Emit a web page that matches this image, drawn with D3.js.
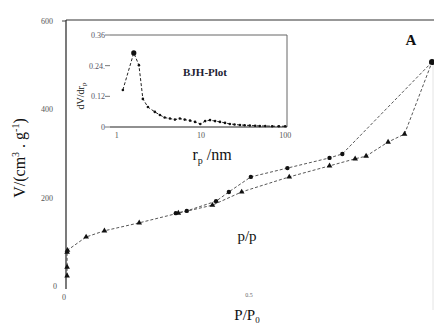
<!DOCTYPE html>
<html>
<head>
<meta charset="utf-8">
<script src="https://cdn.jsdelivr.net/npm/d3@7"></script>
<style>
  body { margin: 0; background: #fff; }
  text { font-family: "Liberation Serif", "DejaVu Serif", serif; }
</style>
</head>
<body>
<div id="chart"></div>
<script>
// adsorption branch (triangles)
var adsP = [0.003, 0.003, 0.003, 0.004, 0.055, 0.105, 0.20, 0.307, 0.40, 0.48, 0.61, 0.72, 0.79, 0.82, 0.88, 0.925, 1.0];
var adsV = [23, 43, 77, 81, 111, 125, 143, 165, 183, 213, 247, 272, 288, 294, 326, 344, 507];
// desorption branch (circles)
var desP = [1.0, 0.755, 0.72, 0.605, 0.505, 0.445, 0.41, 0.33, 0.30];
var desV = [507, 299, 290, 267, 247, 213, 192, 170, 165];

// BJH inset
var poreR = [1.18, 1.59, 1.83, 2.04, 2.34, 2.83, 3.25, 3.7, 4.27, 4.9, 5.6, 6.4, 7.4, 8.5, 9.8, 11.2, 12.8, 14.7, 16.8, 19.3, 22, 25, 29, 33, 38, 44, 50, 58, 70, 84, 100];
var dVdr = [0.145, 0.29, 0.242, 0.11, 0.078, 0.059, 0.047, 0.037, 0.033, 0.029, 0.033, 0.029, 0.025, 0.02, 0.012, 0.023, 0.027, 0.023, 0.02, 0.016, 0.012, 0.01, 0.008, 0.007, 0.006, 0.005, 0.004, 0.004, 0.003, 0.003, 0.003];

var yTicks = [0, 200, 400, 600];
var insetYTicks = [0, 0.12, 0.24, 0.36];
var insetYLabels = ['0', '0.12', '0.24.', '0.36'];
var insetXTicks = [1, 10, 100];

var svg = d3.select('#chart')
  .append('svg')
    .attr('width', 434)
    .attr('height', 327);

var x = d3.scaleLinear().domain([0, 1]).range([66, 432]);
var y = d3.scaleLinear().domain([0, 600]).range([286, 21]);

// frame
svg.append('line').attr('x1', 66).attr('x2', 434).attr('y1', 20).attr('y2', 20)
  .attr('stroke', '#333').attr('stroke-width', 1.2);
svg.append('line').attr('x1', 66).attr('x2', 66).attr('y1', 20).attr('y2', 289)
  .attr('stroke', '#222').attr('stroke-width', 1.2);
svg.append('line').attr('x1', 433).attr('x2', 433).attr('y1', 60).attr('y2', 310)
  .attr('stroke', '#e4e4e4').attr('stroke-width', 1);

// y ticks
var yAxis = svg.append('g');
yAxis.selectAll('text')
  .data(yTicks)
  .enter()
    .append('text')
      .attr('x', function(d) { return d === 0 ? 57 : 53; })
      .attr('y', function(d) { return y(d) + 3; })
      .attr('text-anchor', 'end')
      .attr('font-size', 8)
      .attr('fill', '#555')
      .text(function(d) { return d; });
svg.append('line').attr('x1', 62).attr('x2', 66).attr('y1', y(600)).attr('y2', y(600))
  .attr('stroke', '#444');

// x tick labels
svg.append('text').attr('x', x(0) - 2).attr('y', 300).attr('text-anchor', 'middle')
  .attr('font-size', 8).attr('fill', '#555').text('0');
svg.append('text').attr('x', x(0.5)).attr('y', 297).attr('text-anchor', 'middle')
  .attr('font-size', 6).attr('fill', '#666').text('0.5');

// axis titles
var xt = svg.append('text').attr('x', 247).attr('y', 320).attr('text-anchor', 'middle')
  .attr('font-size', 15).attr('fill', '#111');
xt.append('tspan').text('P/P');
xt.append('tspan').attr('font-size', 9).attr('dy', 3).text('0');

svg.append('text').attr('x', 247).attr('y', 241).attr('text-anchor', 'middle')
  .attr('font-size', 15).attr('fill', '#111').text('p/p');

var yt = svg.append('text')
  .attr('transform', 'translate(25,158) rotate(-90)')
  .attr('text-anchor', 'middle')
  .attr('font-size', 16).attr('fill', '#111');
yt.append('tspan').text('V/(cm');
yt.append('tspan').attr('font-size', 10).attr('dy', -6).text('3');
yt.append('tspan').attr('dy', 6).text(' . g');
yt.append('tspan').attr('font-size', 10).attr('dy', -6).text('-1');
yt.append('tspan').attr('dy', 6).text(')');

svg.append('text').attr('x', 411).attr('y', 45).attr('text-anchor', 'middle')
  .attr('font-size', 15).attr('font-weight', 'bold').attr('fill', '#111').text('A');

// isotherm lines
var ads = adsP.map(function(p, i) { return [p, adsV[i]]; });
var des = desP.map(function(p, i) { return [p, desV[i]]; });
var line = d3.line()
  .x(function(d) { return x(d[0]); })
  .y(function(d) { return y(d[1]); });

svg.append('path').datum(ads).attr('d', line)
  .attr('fill', 'none').attr('stroke', '#444').attr('stroke-width', 0.9)
  .attr('stroke-dasharray', '3,2');
svg.append('path').datum(des).attr('d', line)
  .attr('fill', 'none').attr('stroke', '#444').attr('stroke-width', 0.9)
  .attr('stroke-dasharray', '3,2');

var tri = d3.symbol().type(d3.symbolTriangle).size(14);
svg.append('g').selectAll('path')
  .data(ads)
  .enter()
    .append('path')
      .attr('d', tri)
      .attr('transform', function(d) { return 'translate(' + x(d[0]) + ',' + y(d[1]) + ')'; })
      .attr('fill', '#111');
svg.append('g').selectAll('circle')
  .data(des)
  .enter()
    .append('circle')
      .attr('cx', function(d) { return x(d[0]); })
      .attr('cy', function(d) { return y(d[1]); })
      .attr('r', function(d, i) { return i === 0 ? 3 : 2.2; })
      .attr('fill', '#111');

// inset
var ix = d3.scaleLog().domain([0.83, 105]).range([110, 287]);
var iy = d3.scaleLinear().domain([0, 0.36]).range([127, 35]);

var inset = svg.append('g');
inset.append('line').attr('x1', 110).attr('x2', 287).attr('y1', 35).attr('y2', 35)
  .attr('stroke', '#666').attr('stroke-width', 1);
inset.append('line').attr('x1', 287).attr('x2', 287).attr('y1', 35).attr('y2', 127)
  .attr('stroke', '#666').attr('stroke-width', 1);
inset.append('line').attr('x1', 110).attr('x2', 287).attr('y1', 127).attr('y2', 127)
  .attr('stroke', '#222').attr('stroke-width', 1.2);

inset.selectAll('text.yt')
  .data(insetYTicks)
  .enter()
    .append('text')
      .attr('class', 'yt')
      .attr('x', 105)
      .attr('y', function(d) { return iy(d) + 3; })
      .attr('text-anchor', 'end')
      .attr('font-size', 8)
      .attr('fill', '#556')
      .text(function(d, i) { return insetYLabels[i]; });
inset.selectAll('line.yt')
  .data(insetYTicks)
  .enter()
    .append('line')
      .attr('class', 'yt')
      .attr('x1', 105).attr('x2', 110)
      .attr('y1', function(d) { return iy(d); })
      .attr('y2', function(d) { return iy(d); })
      .attr('stroke', '#777');

inset.selectAll('text.xt')
  .data(insetXTicks)
  .enter()
    .append('text')
      .attr('class', 'xt')
      .attr('x', function(d) { return ix(d); })
      .attr('y', 138)
      .attr('text-anchor', 'middle')
      .attr('font-size', 8)
      .attr('fill', '#555')
      .text(function(d) { return d; });

var rl = inset.append('text').attr('x', 212).attr('y', 160).attr('text-anchor', 'middle')
  .attr('font-size', 16).attr('fill', '#111');
rl.append('tspan').text('r');
rl.append('tspan').attr('font-size', 10).attr('dy', 4).text('p');
rl.append('tspan').attr('dy', -4).text(' /nm');

var il = inset.append('text')
  .attr('transform', 'translate(84,96) rotate(-90)')
  .attr('text-anchor', 'middle')
  .attr('font-size', 10).attr('fill', '#111');
il.append('tspan').text('dV/dr');
il.append('tspan').attr('font-size', 7).attr('dy', 2).text('p');

inset.append('text').attr('x', 205).attr('y', 76).attr('text-anchor', 'middle')
  .attr('font-size', 11).attr('font-weight', 'bold').attr('fill', '#223').text('BJH-Plot');

var bjh = poreR.map(function(r, i) { return [r, dVdr[i]]; });
inset.append('path').datum(bjh)
  .attr('d', d3.line().x(function(d) { return ix(d[0]); }).y(function(d) { return iy(d[1]); }))
  .attr('fill', 'none').attr('stroke', '#222').attr('stroke-width', 1)
  .attr('stroke-dasharray', '3,2');
inset.selectAll('circle')
  .data(bjh)
  .enter()
    .append('circle')
      .attr('cx', function(d) { return ix(d[0]); })
      .attr('cy', function(d) { return iy(d[1]); })
      .attr('r', function(d) { return d[1] > 0.28 ? 2.6 : 1.3; })
      .attr('fill', '#111');
</script>
</body>
</html>
